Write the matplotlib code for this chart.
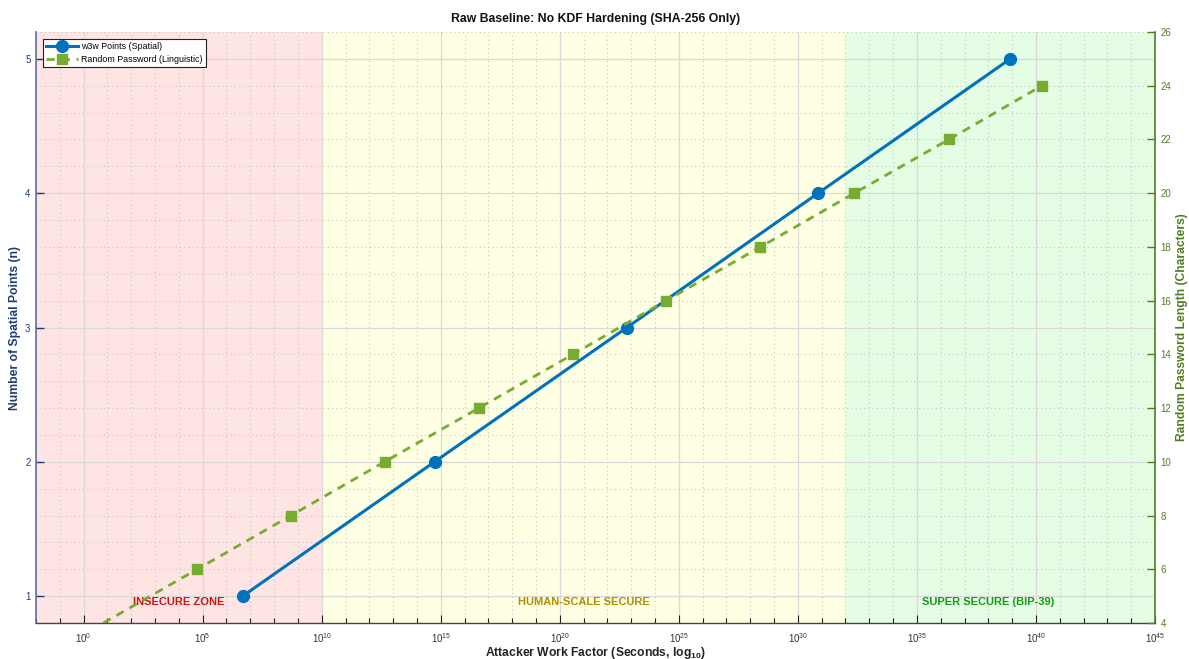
import numpy as np
import matplotlib
matplotlib.use("Agg")
import matplotlib.pyplot as plt
from matplotlib.lines import Line2D
from matplotlib.ticker import FixedLocator, FixedFormatter, MultipleLocator

plt.rcParams['font.family'] = ['Liberation Sans', 'DejaVu Sans']
plt.rcParams['mathtext.fontset'] = 'custom'
plt.rcParams['mathtext.rm'] = 'Liberation Sans'
plt.rcParams['mathtext.bf'] = 'Liberation Sans:bold'
plt.rcParams['mathtext.default'] = 'regular'

# ---- data (log10 of attacker work, seconds) ----
w3w_points = [1, 2, 3, 4, 5]
w3w_log_work = [6.68, 14.74, 22.82, 30.85, 38.92]

pw_length = [4, 6, 8, 10, 12, 14, 16, 18, 20, 22, 24]
pw_log_work = [0.83, 4.77, 8.71, 12.64, 16.60, 20.55, 24.46, 28.43, 32.37, 36.34, 40.25]

zone_edges_log = [-2, 10, 32, 45]
zone_names = ['INSECURE ZONE', 'HUMAN-SCALE SECURE', 'SUPER SECURE (BIP-39)']
zone_label_log = [4, 21, 38]

xtick_exp = [0, 5, 10, 15, 20, 25, 30, 35, 40, 45]

# ---- styles ----
zone_fill = ['#ffe4e4', '#ffffe3', '#e4fde4']
zone_text = ['#cc1414', '#b08e00', '#169a16']
blue = '#0072BD'
green = '#77AC30'
left_col = '#1f3d73'
right_col = '#4f7f1f'

fig = plt.figure(figsize=(11.89, 6.59), dpi=100)
ax = fig.add_axes([36/1189, 36/659, (1155-36)/1189, (623-32)/659])

ax.set_xscale('log')
ax.set_xlim(10.0**zone_edges_log[0], 10.0**zone_edges_log[-1])
ax.set_ylim(0.8, 5.2)

for i in range(3):
    ax.axvspan(10.0**zone_edges_log[i], 10.0**zone_edges_log[i+1],
               color=zone_fill[i], zorder=0, lw=0)
    ax.text(10.0**zone_label_log[i], 0.955, zone_names[i], color=zone_text[i],
            fontsize=8, fontweight='bold', ha='center', va='center', zorder=3)

# grid
ax.xaxis.set_major_locator(FixedLocator([10.0**e for e in xtick_exp]))
ax.xaxis.set_major_formatter(FixedFormatter([r'$10^{%d}$' % e for e in xtick_exp]))
ax.xaxis.set_minor_locator(FixedLocator([10.0**e for e in range(-2, 46)]))
ax.xaxis.set_minor_formatter(FixedFormatter([''] * 48))
ax.yaxis.set_major_locator(FixedLocator(w3w_points))
ax.yaxis.set_minor_locator(MultipleLocator(0.2))
ax.set_axisbelow(True)
ax.grid(True, which='major', color='#d9d9d9', lw=0.9, ls='-', zorder=1)
ax.grid(True, which='minor', color='#c8c8c8', lw=0.8, ls=(0, (1, 2.8)), zorder=1)

ax.plot([10.0**v for v in w3w_log_work], w3w_points, color=blue, lw=2.2,
        marker='o', markersize=8.5, zorder=4)

ax.tick_params(axis='x', which='major', direction='in', length=6, width=0.8,
               color='#222222', labelsize=7, labelcolor='#333333', pad=6)
ax.tick_params(axis='x', which='minor', direction='in', length=3.5, width=0.8,
               color='#222222')
ax.tick_params(axis='y', which='major', direction='in', length=6, width=1,
               color=left_col, labelsize=7, labelcolor=left_col, pad=4)
ax.tick_params(axis='y', which='minor', length=0)
ax.spines['left'].set_color('#5a739c')
ax.spines['left'].set_linewidth(1.2)
ax.spines['bottom'].set_color('#444444')
ax.spines['bottom'].set_linewidth(1.0)
ax.spines['top'].set_visible(False)
ax.spines['right'].set_visible(False)

ax.set_xlabel(r'Attacker Work Factor (Seconds, $\mathbf{log_{10}}$)', fontsize=8.7,
              fontweight='bold', color='#222222', labelpad=0)
ax.set_ylabel('Number of Spatial Points (n)', fontsize=8.7, fontweight='bold',
              color=left_col, labelpad=3)
ax.set_title('Raw Baseline: No KDF Hardening (SHA-256 Only)', fontsize=8.8,
             fontweight='bold', color='#111111', pad=7)

ax2 = ax.twinx()
ax2.set_ylim(4, 26)
ax2.set_yticks(list(range(4, 27, 2)))
ax2.plot([10.0**v for v in pw_log_work], pw_length, color=green, lw=2.0,
         ls=(0, (3.0, 2.4)), marker='s', markersize=7,
         markevery=list(range(1, len(pw_length))), zorder=4)
ax2.tick_params(axis='y', direction='in', length=6, width=1, color=right_col,
                labelsize=7, labelcolor=right_col, pad=4)
ax2.spines['right'].set_color(right_col)
ax2.spines['right'].set_linewidth(1.2)
ax2.spines['top'].set_visible(False)
ax2.spines['left'].set_visible(False)
ax2.spines['bottom'].set_visible(False)
ax2.set_ylabel('Random Password Length (Characters)', fontsize=8.7, fontweight='bold',
               color=right_col, labelpad=3)

h1 = Line2D([], [], color=blue, lw=2.2, marker='o', markersize=8.5)
h2 = Line2D([], [], color=green, lw=2.0, ls=(0, (3.0, 2.4)), marker='s', markersize=7)
leg = ax2.legend(handles=[h1, h2],
                 labels=['w3w Points (Spatial)', 'Random Password (Linguistic)'],
                 loc='upper left', fontsize=6.4, frameon=True,
                 fancybox=False, framealpha=1, edgecolor='#222222',
                 borderaxespad=0.75, handlelength=3.6, borderpad=0.4,
                 labelspacing=0.4, handletextpad=0.3)
leg.get_frame().set_linewidth(0.8)

fig.savefig('out.png', dpi=100)
